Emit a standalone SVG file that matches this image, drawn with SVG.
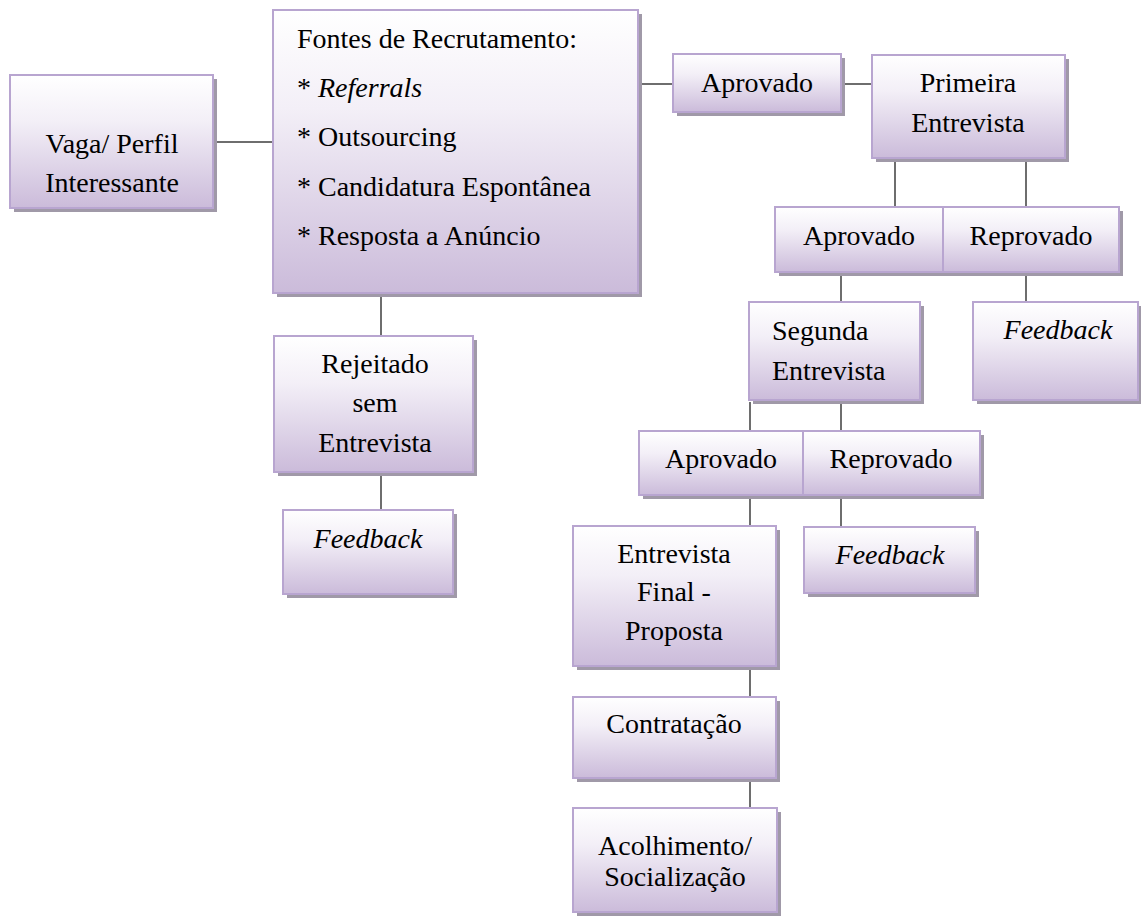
<svg xmlns="http://www.w3.org/2000/svg" width="1141" height="920" viewBox="0 0 1141 920" font-family="Liberation Serif, Times New Roman, DejaVu Serif, serif" font-size="28">
<defs>
<linearGradient id="g" x1="0" y1="0" x2="0" y2="1">
<stop offset="0" stop-color="#ffffff"/>
<stop offset="0.35" stop-color="#f3eff7"/>
<stop offset="1" stop-color="#cbbbda"/>
</linearGradient>
<style>
.sh{fill:#a099a8;}
.bx{fill:url(#g);stroke:#b8a5d0;stroke-width:2;}
.l{text-anchor:start;}
.i{font-style:italic;}
.c{stroke:#6e6e6e;stroke-width:2;fill:none;}
</style>
</defs>
<rect width="1141" height="920" fill="#ffffff"/>
<g id="connectors">
<line class="c" x1="214" y1="142" x2="273" y2="142"/>
<line class="c" x1="638" y1="84" x2="673" y2="84"/>
<line class="c" x1="842" y1="84" x2="872" y2="84"/>
<line class="c" x1="895" y1="160" x2="895" y2="207"/>
<line class="c" x1="1026" y1="160" x2="1026" y2="207"/>
<line class="c" x1="841" y1="274" x2="841" y2="302"/>
<line class="c" x1="1026" y1="274" x2="1026" y2="302"/>
<line class="c" x1="750" y1="402" x2="750" y2="431"/>
<line class="c" x1="841" y1="402" x2="841" y2="431"/>
<line class="c" x1="750" y1="497" x2="750" y2="526"/>
<line class="c" x1="841" y1="497" x2="841" y2="527"/>
<line class="c" x1="750" y1="668" x2="750" y2="697"/>
<line class="c" x1="750" y1="779" x2="750" y2="808"/>
<line class="c" x1="381" y1="296" x2="381" y2="336"/>
<line class="c" x1="381" y1="474" x2="381" y2="510"/>
</g>
<g id="vaga" text-anchor="middle">
<rect class="sh" x="14" y="79" width="203" height="133"/>
<rect class="bx" x="10" y="75" width="203" height="133"/>
<text x="112" y="153" font-family="Liberation Serif">Vaga/ Perfil</text>
<text x="112" y="192" font-family="Liberation Serif">Interessante</text>
</g>
<g id="fontes" font-family="Liberation Serif">
<rect class="sh" x="277" y="14" width="365" height="283"/>
<rect class="bx" x="273" y="10" width="365" height="283"/>
<text x="297" y="48">Fontes de Recrutamento:</text>
<text x="297" y="97">* <tspan font-style="italic">Referrals</tspan></text>
<text x="297" y="146">* Outsourcing</text>
<text x="297" y="196">* Candidatura Espontânea</text>
<text x="297" y="245">* Resposta a Anúncio</text>
</g>
<g id="aprovado1" text-anchor="middle" font-family="Liberation Serif">
<rect class="sh" x="677" y="58" width="168" height="58"/>
<rect class="bx" x="673" y="54" width="168" height="58"/>
<text x="757" y="92">Aprovado</text>
</g>
<g id="primeira" text-anchor="middle" font-family="Liberation Serif">
<rect class="sh" x="876" y="59" width="193" height="103"/>
<rect class="bx" x="872" y="55" width="193" height="103"/>
<text x="968" y="92">Primeira</text>
<text x="968" y="132">Entrevista</text>
</g>
<g id="aprovado2" text-anchor="middle" font-family="Liberation Serif">
<rect class="sh" x="779" y="211" width="168" height="65"/>
<rect class="bx" x="775" y="207" width="168" height="65"/>
<text x="859" y="245">Aprovado</text>
</g>
<g id="reprovado2" text-anchor="middle" font-family="Liberation Serif">
<rect class="sh" x="947" y="211" width="176" height="65"/>
<rect class="bx" x="943" y="207" width="176" height="65"/>
<text x="1031" y="245">Reprovado</text>
</g>
<g id="segunda" font-family="Liberation Serif">
<rect class="sh" x="753" y="306" width="171" height="98"/>
<rect class="bx" x="749" y="302" width="171" height="98"/>
<text x="772" y="340">Segunda</text>
<text x="772" y="380">Entrevista</text>
</g>
<g id="feedback2" text-anchor="middle" font-family="Liberation Serif" font-style="italic">
<rect class="sh" x="977" y="306" width="165" height="98"/>
<rect class="bx" x="973" y="302" width="165" height="98"/>
<text x="1058" y="339">Feedback</text>
</g>
<g id="aprovado3" text-anchor="middle" font-family="Liberation Serif">
<rect class="sh" x="643" y="435" width="164" height="64"/>
<rect class="bx" x="639" y="431" width="164" height="64"/>
<text x="721" y="468">Aprovado</text>
</g>
<g id="reprovado3" text-anchor="middle" font-family="Liberation Serif">
<rect class="sh" x="807" y="435" width="177" height="64"/>
<rect class="bx" x="803" y="431" width="177" height="64"/>
<text x="891" y="468">Reprovado</text>
</g>
<g id="final" text-anchor="middle" font-family="Liberation Serif">
<rect class="sh" x="577" y="530" width="203" height="140"/>
<rect class="bx" x="573" y="526" width="203" height="140"/>
<text x="674" y="563">Entrevista</text>
<text x="674" y="601">Final -</text>
<text x="674" y="640">Proposta</text>
</g>
<g id="feedback3" text-anchor="middle" font-family="Liberation Serif" font-style="italic">
<rect class="sh" x="808" y="531" width="171" height="66"/>
<rect class="bx" x="804" y="527" width="171" height="66"/>
<text x="890" y="564">Feedback</text>
</g>
<g id="contratacao" text-anchor="middle" font-family="Liberation Serif">
<rect class="sh" x="577" y="701" width="203" height="81"/>
<rect class="bx" x="573" y="697" width="203" height="81"/>
<text x="674" y="733">Contratação</text>
</g>
<g id="acolhimento" text-anchor="middle" font-family="Liberation Serif">
<rect class="sh" x="577" y="812" width="204" height="104"/>
<rect class="bx" x="573" y="808" width="204" height="104"/>
<text x="675" y="855">Acolhimento/</text>
<text x="675" y="886">Socialização</text>
</g>
<g id="rejeitado" text-anchor="middle" font-family="Liberation Serif">
<rect class="sh" x="278" y="340" width="199" height="136"/>
<rect class="bx" x="274" y="336" width="199" height="136"/>
<text x="375" y="373">Rejeitado</text>
<text x="375" y="412">sem</text>
<text x="375" y="452">Entrevista</text>
</g>
<g id="feedback1" text-anchor="middle" font-family="Liberation Serif" font-style="italic">
<rect class="sh" x="287" y="514" width="170" height="84"/>
<rect class="bx" x="283" y="510" width="170" height="84"/>
<text x="368" y="548">Feedback</text>
</g>
</svg>
